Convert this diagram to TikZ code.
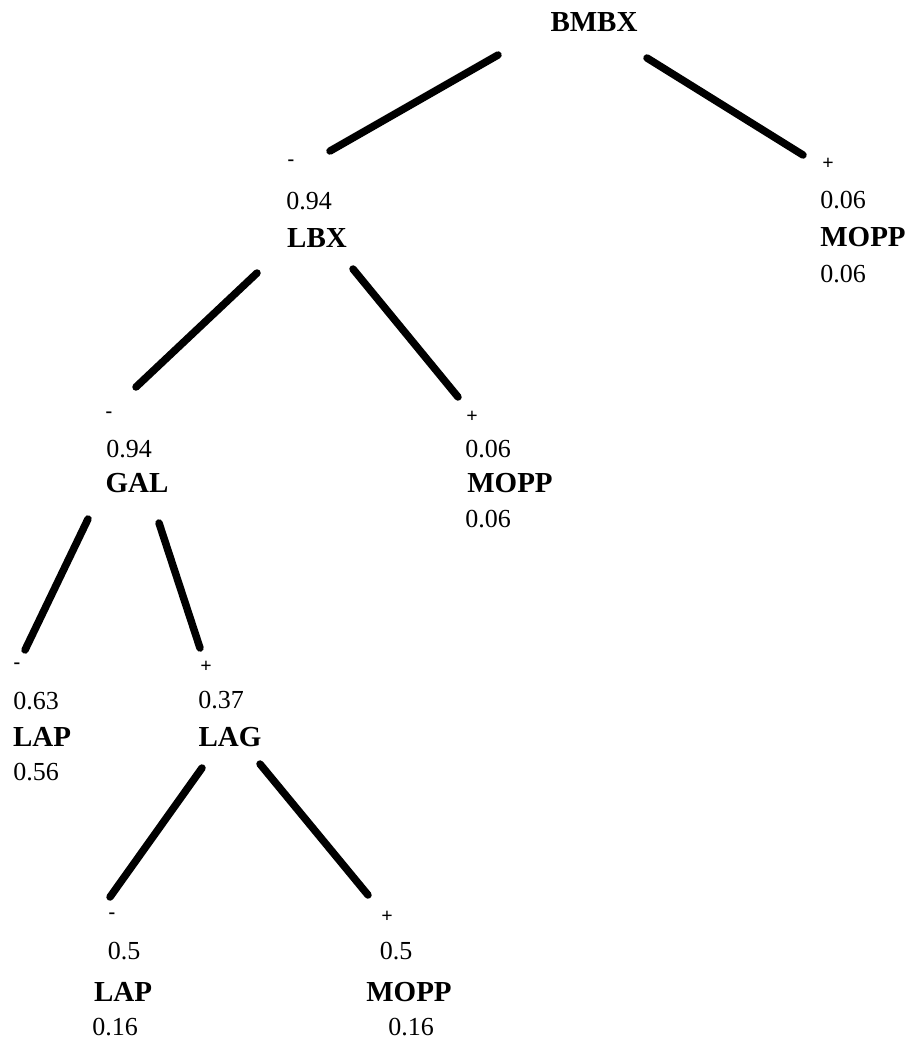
\documentclass[tikz,border=0pt]{standalone}
\usepackage{fontspec}
\setmainfont{Liberation Serif}
\usepackage{tikz}

\begin{document}
\begin{tikzpicture}[x=1pt,y=-1pt,
    varlabel/.style={inner sep=0pt,font=\fontsize{29}{29}\selectfont\bfseries},
    prob/.style={inner sep=0pt,font=\fontsize{26}{26}\selectfont},
    signmark/.style={inner sep=0pt,font=\fontsize{20}{20}\selectfont\bfseries},
    branch/.style={line width=7.5pt,line cap=round}]
    \useasboundingbox (0,0) rectangle (915,1042);
    % root
    \node[varlabel] (bmbx) at (594,22) {BMBX};
    % first split
    \node[signmark] (lbx-s) at (291,163) {-};
    \node[prob] (lbx-p) at (309,201) {0.94};
    \node[varlabel] (lbx) at (317,238) {LBX};
    \node[signmark] (mopp1-s) at (828,164) {+};
    \node[prob] (mopp1-p) at (843,200) {0.06};
    \node[varlabel] (mopp1) at (863,237) {MOPP};
    \node[prob] (mopp1-q) at (843,274) {0.06};
    % second split
    \node[signmark] (gal-s) at (109,415) {-};
    \node[prob] (gal-p) at (129,449) {0.94};
    \node[varlabel] (gal) at (137,483) {GAL};
    \node[signmark] (mopp2-s) at (472,417) {+};
    \node[prob] (mopp2-p) at (488,449) {0.06};
    \node[varlabel] (mopp2) at (510,483) {MOPP};
    \node[prob] (mopp2-q) at (488,519) {0.06};
    % third split
    \node[signmark] (lap1-s) at (17,666) {-};
    \node[prob] (lap1-p) at (36,701) {0.63};
    \node[varlabel] (lap1) at (42,737) {LAP};
    \node[prob] (lap1-q) at (36,772) {0.56};
    \node[signmark] (lag-s) at (206,667) {+};
    \node[prob] (lag-p) at (221,700) {0.37};
    \node[varlabel] (lag) at (230,737) {LAG};
    % fourth split
    \node[signmark] (lap2-s) at (112,916) {-};
    \node[prob] (lap2-p) at (124,951) {0.5};
    \node[varlabel] (lap2) at (123,992) {LAP};
    \node[prob] (lap2-q) at (115,1027) {0.16};
    \node[signmark] (mopp3-s) at (387,917) {+};
    \node[prob] (mopp3-p) at (396,951) {0.5};
    \node[varlabel] (mopp3) at (409,992) {MOPP};
    \node[prob] (mopp3-q) at (411,1027) {0.16};
    % branch ends
    \coordinate (bmbx-l) at (498,55);
    \coordinate (bmbx-r) at (647,58);
    \coordinate (lbx-t) at (330,151);
    \coordinate (mopp1-t) at (803,155);
    \coordinate (lbx-l) at (257,273);
    \coordinate (lbx-r) at (353,269);
    \coordinate (gal-t) at (136,387);
    \coordinate (mopp2-t) at (458,397);
    \coordinate (gal-l) at (88,519);
    \coordinate (gal-r) at (159,523);
    \coordinate (lap1-t) at (25,650);
    \coordinate (lag-t) at (200,648);
    \coordinate (lag-l) at (202,768);
    \coordinate (lag-r) at (260,764);
    \coordinate (lap2-t) at (110,897);
    \coordinate (mopp3-t) at (368,895);
    \draw[branch] (bmbx-l) -- (lbx-t);
    \draw[branch] (bmbx-r) -- (mopp1-t);
    \draw[branch] (lbx-l) -- (gal-t);
    \draw[branch] (lbx-r) -- (mopp2-t);
    \draw[branch] (gal-l) -- (lap1-t);
    \draw[branch] (gal-r) -- (lag-t);
    \draw[branch] (lag-l) -- (lap2-t);
    \draw[branch] (lag-r) -- (mopp3-t);
\end{tikzpicture}
\end{document}
